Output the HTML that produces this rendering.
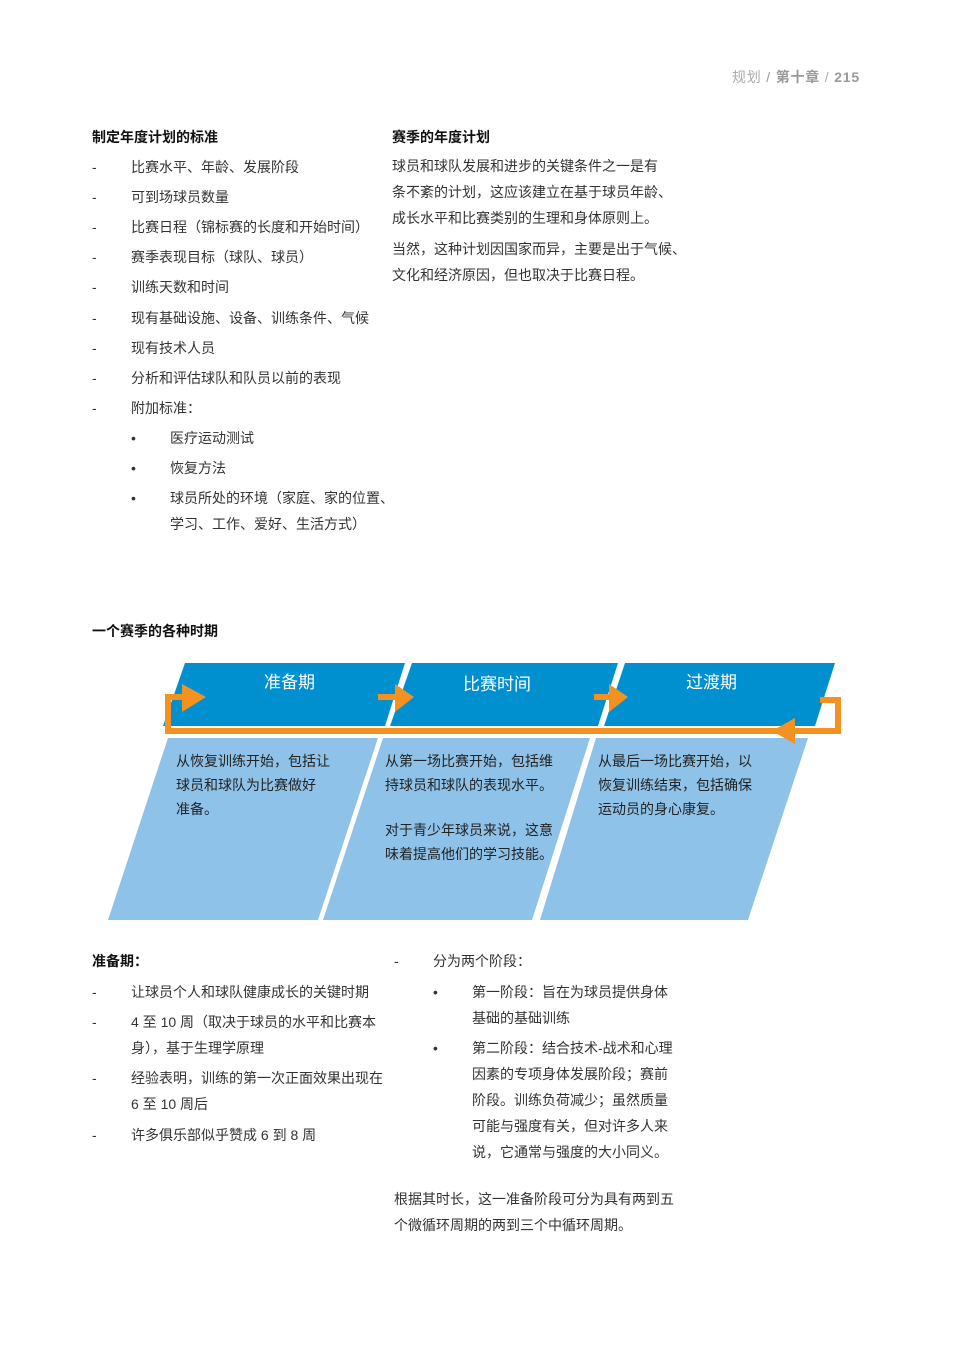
<!DOCTYPE html>
<html><head><meta charset="utf-8"><style>
body{margin:0;width:959px;height:1356px;background:#fff;font-family:"Liberation Sans","Noto Sans CJK SC",sans-serif;color:#333;position:relative;overflow:hidden}
.t{position:absolute;font-size:14px;white-space:nowrap;line-height:20px}
.b{font-weight:bold;color:#111}
</style></head><body>
<div class="t" style="left:732px;top:67px;color:#aaa;font-size:14px;letter-spacing:0.8px">规划 <span style="color:#999">/</span> <b style="color:#999">第十章</b> / <b style="color:#999">215</b></div>

<div class="t b" style="left:92px;top:127px">制定年度计划的标准</div>
<div class="t" style="left:92px;top:157px">-</div><div class="t" style="left:131px;top:157px">比赛水平、年龄、发展阶段</div>
<div class="t" style="left:92px;top:187px">-</div><div class="t" style="left:131px;top:187px">可到场球员数量</div>
<div class="t" style="left:92px;top:217px">-</div><div class="t" style="left:131px;top:217px">比赛日程（锦标赛的长度和开始时间）</div>
<div class="t" style="left:92px;top:247px">-</div><div class="t" style="left:131px;top:247px">赛季表现目标（球队、球员）</div>
<div class="t" style="left:92px;top:277px">-</div><div class="t" style="left:131px;top:277px">训练天数和时间</div>
<div class="t" style="left:92px;top:308px">-</div><div class="t" style="left:131px;top:308px">现有基础设施、设备、训练条件、气候</div>
<div class="t" style="left:92px;top:338px">-</div><div class="t" style="left:131px;top:338px">现有技术人员</div>
<div class="t" style="left:92px;top:368px">-</div><div class="t" style="left:131px;top:368px">分析和评估球队和队员以前的表现</div>
<div class="t" style="left:92px;top:398px">-</div><div class="t" style="left:131px;top:398px">附加标准：</div>
<div class="t" style="left:131px;top:428px">•</div><div class="t" style="left:170px;top:428px">医疗运动测试</div>
<div class="t" style="left:131px;top:458px">•</div><div class="t" style="left:170px;top:458px">恢复方法</div>
<div class="t" style="left:131px;top:488px">•</div><div class="t" style="left:170px;top:488px">球员所处的环境（家庭、家的位置、</div>
<div class="t" style="left:170px;top:514px">学习、工作、爱好、生活方式）</div>

<div class="t b" style="left:392px;top:127px">赛季的年度计划</div>
<div class="t" style="left:392px;top:156px">球员和球队发展和进步的关键条件之一是有</div>
<div class="t" style="left:392px;top:182px">条不紊的计划，这应该建立在基于球员年龄、</div>
<div class="t" style="left:392px;top:208px">成长水平和比赛类别的生理和身体原则上。</div>
<div class="t" style="left:392px;top:239px">当然，这种计划因国家而异，主要是出于气候、</div>
<div class="t" style="left:392px;top:265px">文化和经济原因，但也取决于比赛日程。</div>

<div class="t b" style="left:92px;top:621px">一个赛季的各种时期</div>

<svg style="position:absolute;left:0;top:0" width="959" height="1356">
<g fill="#0090d0">
<polygon points="185,663 405,663 385,726 163,726"/>
<polygon points="412,663 618,663 598,726 390,726"/>
<polygon points="625,663 835,663 815,726 604,726"/>
</g>
<g fill="#8ec2e8">
<polygon points="168,738 378,738 318,920 108,920"/>
<polygon points="383,738 590,738 532,920 323,920"/>
<polygon points="596,738 808,738 748,920 540,920"/>
</g>
<g fill="none" stroke="#f39220" stroke-width="6">
<polyline points="185,697 168,697 168,731 785,731"/>
<polyline points="820,700 838,700 838,731 790,731"/>
<line x1="378" y1="697" x2="398" y2="697"/>
<line x1="594" y1="697" x2="612" y2="697"/>
</g>
<g fill="#f39220">
<polygon points="182,684 206,697 182,712"/>
<polygon points="395,684 414,697 395,712"/>
<polygon points="609,684 628,697 609,712"/>
<polygon points="795,718 772,731 795,744"/>
</g>
<g font-family="Liberation Sans,Noto Sans CJK SC,sans-serif" font-size="17" fill="#fff">
<text x="264" y="688">准备期</text>
<text x="463" y="690">比赛时间</text>
<text x="686" y="688">过渡期</text>
</g>
</svg>
<div class="t" style="left:176px;top:751px;color:#222">从恢复训练开始，包括让</div>
<div class="t" style="left:176px;top:775px;color:#222">球员和球队为比赛做好</div>
<div class="t" style="left:176px;top:799px;color:#222">准备。</div>
<div class="t" style="left:385px;top:751px;color:#222">从第一场比赛开始，包括维</div>
<div class="t" style="left:385px;top:775px;color:#222">持球员和球队的表现水平。</div>
<div class="t" style="left:385px;top:820px;color:#222">对于青少年球员来说，这意</div>
<div class="t" style="left:385px;top:844px;color:#222">味着提高他们的学习技能。</div>
<div class="t" style="left:598px;top:751px;color:#222">从最后一场比赛开始，以</div>
<div class="t" style="left:598px;top:775px;color:#222">恢复训练结束，包括确保</div>
<div class="t" style="left:598px;top:799px;color:#222">运动员的身心康复。</div>

<div class="t b" style="left:92px;top:951px">准备期：</div>
<div class="t" style="left:92px;top:982px">-</div><div class="t" style="left:131px;top:982px">让球员个人和球队健康成长的关键时期</div>
<div class="t" style="left:92px;top:1012px">-</div><div class="t" style="left:131px;top:1012px">4 至 10 周（取决于球员的水平和比赛本</div>
<div class="t" style="left:131px;top:1038px">身），基于生理学原理</div>
<div class="t" style="left:92px;top:1068px">-</div><div class="t" style="left:131px;top:1068px">经验表明，训练的第一次正面效果出现在</div>
<div class="t" style="left:131px;top:1094px">6 至 10 周后</div>
<div class="t" style="left:92px;top:1125px">-</div><div class="t" style="left:131px;top:1125px">许多俱乐部似乎赞成 6 到 8 周</div>

<div class="t" style="left:394px;top:951px">-</div><div class="t" style="left:433px;top:951px">分为两个阶段：</div>
<div class="t" style="left:433px;top:982px">•</div><div class="t" style="left:472px;top:982px">第一阶段：旨在为球员提供身体</div>
<div class="t" style="left:472px;top:1008px">基础的基础训练</div>
<div class="t" style="left:433px;top:1038px">•</div><div class="t" style="left:472px;top:1038px">第二阶段：结合技术-战术和心理</div>
<div class="t" style="left:472px;top:1064px">因素的专项身体发展阶段；赛前</div>
<div class="t" style="left:472px;top:1090px">阶段。训练负荷减少；虽然质量</div>
<div class="t" style="left:472px;top:1116px">可能与强度有关，但对许多人来</div>
<div class="t" style="left:472px;top:1142px">说，它通常与强度的大小同义。</div>
<div class="t" style="left:394px;top:1189px">根据其时长，这一准备阶段可分为具有两到五</div>
<div class="t" style="left:394px;top:1215px">个微循环周期的两到三个中循环周期。</div>
</body></html>
